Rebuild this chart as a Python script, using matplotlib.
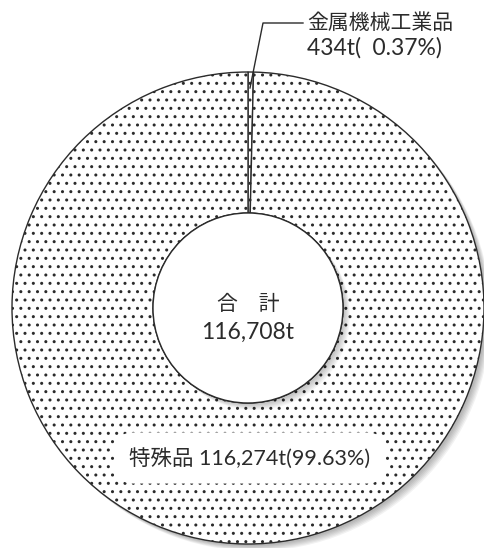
import matplotlib.pyplot as plt
from matplotlib.patches import Circle

plt.rcParams['font.family'] = ['Lato', 'Noto Sans CJK JP', 'DejaVu Sans']
plt.rcParams['hatch.linewidth'] = 1.0

# data
labels = ['金属機械工業品', '特殊品']
tons = [434, 116274]
shares = [0.37, 99.63]
total = 116708

W, H = 484, 548
cx, cy = 248, 240      # ring centre (pixel units, y up)
r_out, r_in = 236, 95
ink = '#2b2b2b'

fig = plt.figure(figsize=(W / 100, H / 100), dpi=100)
ax = fig.add_axes([0, 0, 1, 1])

# soft shadows lower right
for k in range(6):
    ax.add_patch(Circle((cx + 2 + k, cy - 2 - k), r_out, color='black',
                        alpha=0.05, lw=0, zorder=0))

wedges, _ = ax.pie(tons, center=(cx, cy), radius=r_out, startangle=90,
                   counterclock=False, frame=True,
                   wedgeprops=dict(width=r_out - r_in, facecolor='white',
                                   edgecolor=ink, linewidth=1.0, hatch='..'))
for w in wedges:
    w.set_zorder(1)
ax.set_xlim(0, W)
ax.set_ylim(0, H)
ax.set_aspect('equal')
ax.axis('off')

for k in range(6):
    ax.add_patch(Circle((cx + 2 + k, cy - 2 - k), r_in, color='black',
                        alpha=0.04, lw=0, zorder=2))
ax.add_patch(Circle((cx, cy), r_in, facecolor='white', edgecolor=ink,
                    lw=1.0, zorder=3))

# centre label
ax.text(cx, cy + 4, '合\u3000計', ha='center', va='center', fontsize=15,
        color=ink, zorder=4)
ax.text(cx, cy - 24, f'{total:,}t', ha='center', va='center', fontsize=16.5,
        color=ink, zorder=4)

# big slice label
ax.text(cx + 2, 90, f'{labels[1]} {tons[1]:,}t({shares[1]}%)', ha='center',
        va='center', fontsize=15.5, color=ink, zorder=4,
        bbox=dict(boxstyle='round,pad=0.7,rounding_size=0.9',
                  facecolor='white', edgecolor='none'))

# leader line for the small slice
ax.plot([250, 263, 303], [460, 525, 525], color=ink, lw=1.0, zorder=4)
ax.text(307, 525, labels[0], ha='left', va='center', fontsize=15,
        color=ink, zorder=4)
ax.text(307, 500, f'{tons[0]}t(\u2002{shares[0]}%)', ha='left', va='center',
        fontsize=16.5, color=ink, zorder=4)

fig.savefig('out.png', dpi=100)
